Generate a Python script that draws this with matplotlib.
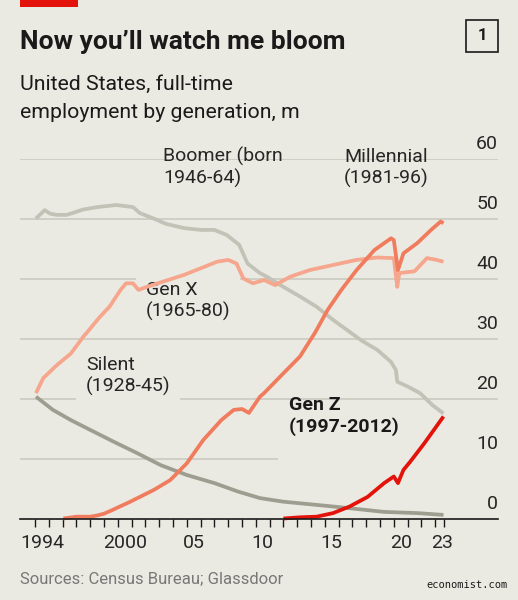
import matplotlib
matplotlib.use("Agg")
import matplotlib.pyplot as plt
from matplotlib.patches import Rectangle

# Full-time employment by generation, United States, millions
boomer_years = [1994.07, 1994.7, 1995.1, 1995.6, 1996.3, 1997.5, 1998.5, 1999.9, 2001.1, 2001.6,
                2002.6, 2003.5, 2004.8, 2006.0, 2007.0, 2007.9, 2008.8, 2009.4, 2010.3,
                2010.8, 2012.0, 2013.2, 2014.4, 2015.6, 2016.8, 2017.6, 2018.8, 2019.8,
                2020.15, 2020.25, 2021.0, 2021.9, 2022.8, 2023.6]
boomer = [50.0, 51.4, 50.8, 50.6, 50.6, 51.5, 51.9, 52.25, 51.9, 50.9,
          50.0, 49.1, 48.4, 48.1, 48.1, 47.25, 45.6, 42.5, 40.9,
          40.3, 38.6, 37.0, 35.3, 33.1, 31.1, 29.75, 28.1, 26.1,
          24.75, 22.8, 22.0, 20.9, 18.9, 17.5]

genx_years = [1994.07, 1994.6, 1995.6, 1996.6, 1997.5, 1997.8, 1998.7, 1999.4, 2000.2,
              2000.6, 2001.1, 2001.5, 2002.1, 2003.3, 2004.8, 2006.0, 2007.2, 2008.0,
              2008.6, 2009.1, 2009.8, 2010.6, 2011.4, 2012.5, 2013.9, 2015.6, 2017.3,
              2018.8, 2020.0, 2020.25, 2020.4, 2021.5, 2022.4, 2023.1, 2023.6]
genx = [20.9, 23.4, 25.6, 27.5, 30.3, 31.1, 33.6, 35.3, 38.1,
        39.2, 39.2, 38.1, 38.6, 39.5, 40.6, 41.7, 42.8, 43.1,
        42.5, 40.0, 39.2, 39.75, 38.9, 40.3, 41.4, 42.25, 43.1,
        43.5, 43.4, 38.6, 40.9, 41.2, 43.4, 43.1, 42.8]

millennial_years = [1996.05, 1997.0, 1998.0, 1998.5, 1999.0, 1999.5, 2000.9, 2002.6, 2003.8,
                    2005.0, 2006.2, 2007.5, 2008.4, 2009.0, 2009.5, 2010.3, 2010.6, 2012.0,
                    2013.2, 2014.3, 2015.2, 2016.2, 2017.3, 2018.6, 2019.8, 2020.0, 2020.3,
                    2020.7, 2021.7, 2022.7, 2023.4, 2023.6]
millennial = [0.0, 0.3, 0.3, 0.5, 0.8, 1.3, 2.8, 4.75, 6.4,
              9.2, 13.1, 16.4, 18.1, 18.25, 17.6, 20.3, 20.9, 24.2,
              27.0, 31.0, 34.75, 38.1, 41.4, 44.75, 46.7, 46.4, 41.4,
              44.2, 45.9, 48.1, 49.5, 49.2]

silent_years = [1994.07, 1995.3, 1996.6, 1997.8, 1999.7, 2001.4, 2003.1, 2005.0,
                2007.0, 2008.7, 2010.3, 2012.0, 2015.6, 2019.3, 2021.7, 2023.6]
silent = [20.3, 18.1, 16.4, 15.0, 12.8, 10.9, 8.9, 7.25,
          5.9, 4.5, 3.4, 2.8, 2.0, 1.1, 0.9, 0.6]

genz_years = [2012.0, 2013.2, 2014.4, 2015.6, 2016.8, 2018.1, 2019.3, 2020.0,
              2020.3, 2020.7, 2021.2, 2022.2, 2022.9, 2023.6]
genz = [0.0, 0.2, 0.3, 0.9, 2.0, 3.6, 5.9, 7.0,
        5.9, 8.1, 9.5, 12.5, 14.75, 17.0]

y_ticks = [0, 10, 20, 30, 40, 50, 60]
x_label_years = [1994, 2000, 2005, 2010, 2015, 2020, 2023]
x_labels = ["1994", "2000", "05", "10", "15", "20", "23"]

BG = "#ebeae2"
DARK = "#1a1a1a"
TXT = "#262626"
GRID = "#c9c8be"

plt.rcParams["font.family"] = ["Roboto", "DejaVu Sans"]

fig = plt.figure(figsize=(5.18, 6.0), dpi=100, facecolor=BG)
ax = fig.add_axes([20 / 518, 81.5 / 600, 478 / 518, 0.6])
ax.set_facecolor(BG)
ax.set_xlim(1992.913, 2027.55)
ax.set_ylim(0, 60)

# gridlines and y labels sitting on top of them, right aligned
for v in y_ticks[1:]:
    if v == 10:
        ax.hlines(v, 1992.913, 2011.6, color=GRID, lw=1.1, zorder=1)
    else:
        ax.axhline(v, color=GRID, lw=1.1, zorder=1)
for v in y_ticks:
    ax.annotate(str(v), xy=(1.0, v), xycoords=ax.get_yaxis_transform(),
                xytext=(0, 4), textcoords="offset points",
                ha="right", va="bottom", fontsize=14, color=TXT)

series = [
    (boomer_years, boomer, "#c3c2b7"),
    (silent_years, silent, "#9d9e90"),
    (genx_years, genx, "#f5a68d"),
    (millennial_years, millennial, "#f07b5d"),
    (genz_years, genz, "#e3120b"),
]
for i, (xs, ys, c) in enumerate(series):
    ax.plot(xs, ys, color=c, lw=2.7, solid_capstyle="butt", zorder=3 + i, clip_on=False)

# series labels
lab = dict(fontsize=14, color=TXT, va="baseline", ha="left", linespacing=1.2)
ax.text(2003.28, 55.75, "Boomer (born\n1946-64)", zorder=2, **lab)
ax.text(2016.39, 55.75, "Millennial\n(1981-96)", zorder=2, **lab)
ax.text(2002.04, 33.6, "Gen X\n(1965-80)", zorder=2,
        bbox=dict(boxstyle="square,pad=0.5", fc=BG, ec="none"), **lab)
ax.text(1997.7, 21.1, "Silent\n(1928-45)", zorder=2,
        bbox=dict(boxstyle="square,pad=0.5", fc=BG, ec="none"), **lab)
ax.text(2012.4, 14.4, "Gen Z\n(1997-2012)", zorder=2, fontweight="bold",
        fontsize=14, color=DARK, va="baseline", ha="left", linespacing=1.2)

# axes styling
for s in ["left", "right", "top"]:
    ax.spines[s].set_visible(False)
ax.spines["bottom"].set_color(DARK)
ax.spines["bottom"].set_linewidth(1.2)
ax.spines["bottom"].set_zorder(10)
ax.set_yticks([])
tick_pos = list(range(1994, 2024)) + [2023.66]
ax.set_xticks(tick_pos)
ax.set_xticklabels([])
ax.tick_params(axis="x", which="major", length=6, width=1, color=DARK, direction="out")
ax.set_xticks([y + 0.5 for y in x_label_years], minor=True)
ax.set_xticklabels(x_labels, minor=True, fontsize=14, color=TXT)
ax.tick_params(axis="x", which="minor", length=0, pad=11)

# header
fig.patches.append(Rectangle((20 / 518, 1 - 7 / 600), 58 / 518, 7 / 600,
                             transform=fig.transFigure, color="#e3120b", lw=0))
fig.text(20 / 518, 1 - 49 / 600, "Now you\u2019ll watch me bloom", fontsize=19,
         fontweight="bold", color=DARK, va="baseline", ha="left")
fig.text(20 / 518, 1 - 90 / 600, "United States, full-time", fontsize=15.3,
         color=DARK, va="baseline", ha="left")
fig.text(20 / 518, 1 - 118 / 600, "employment by generation, m", fontsize=15.3,
         color=DARK, va="baseline", ha="left")
fig.patches.append(Rectangle((466 / 518, 1 - 52 / 600), 32 / 518, 32 / 600,
                             transform=fig.transFigure, fill=False, ec=DARK, lw=1.2))
fig.text(482 / 518, 1 - 36 / 600, "1", fontsize=12, fontweight="bold", color=DARK,
         ha="center", va="center")

fig.text(20 / 518, 1 - 583 / 600, "Sources: Census Bureau; Glassdoor", fontsize=12,
         color="#777777", va="baseline", ha="left")
fig.text(508 / 518, 1 - 585 / 600, "economist.com", fontsize=7.5, family="DejaVu Sans Mono",
         color=DARK, va="center", ha="right")

fig.savefig("out.png", dpi=100, facecolor=BG)
